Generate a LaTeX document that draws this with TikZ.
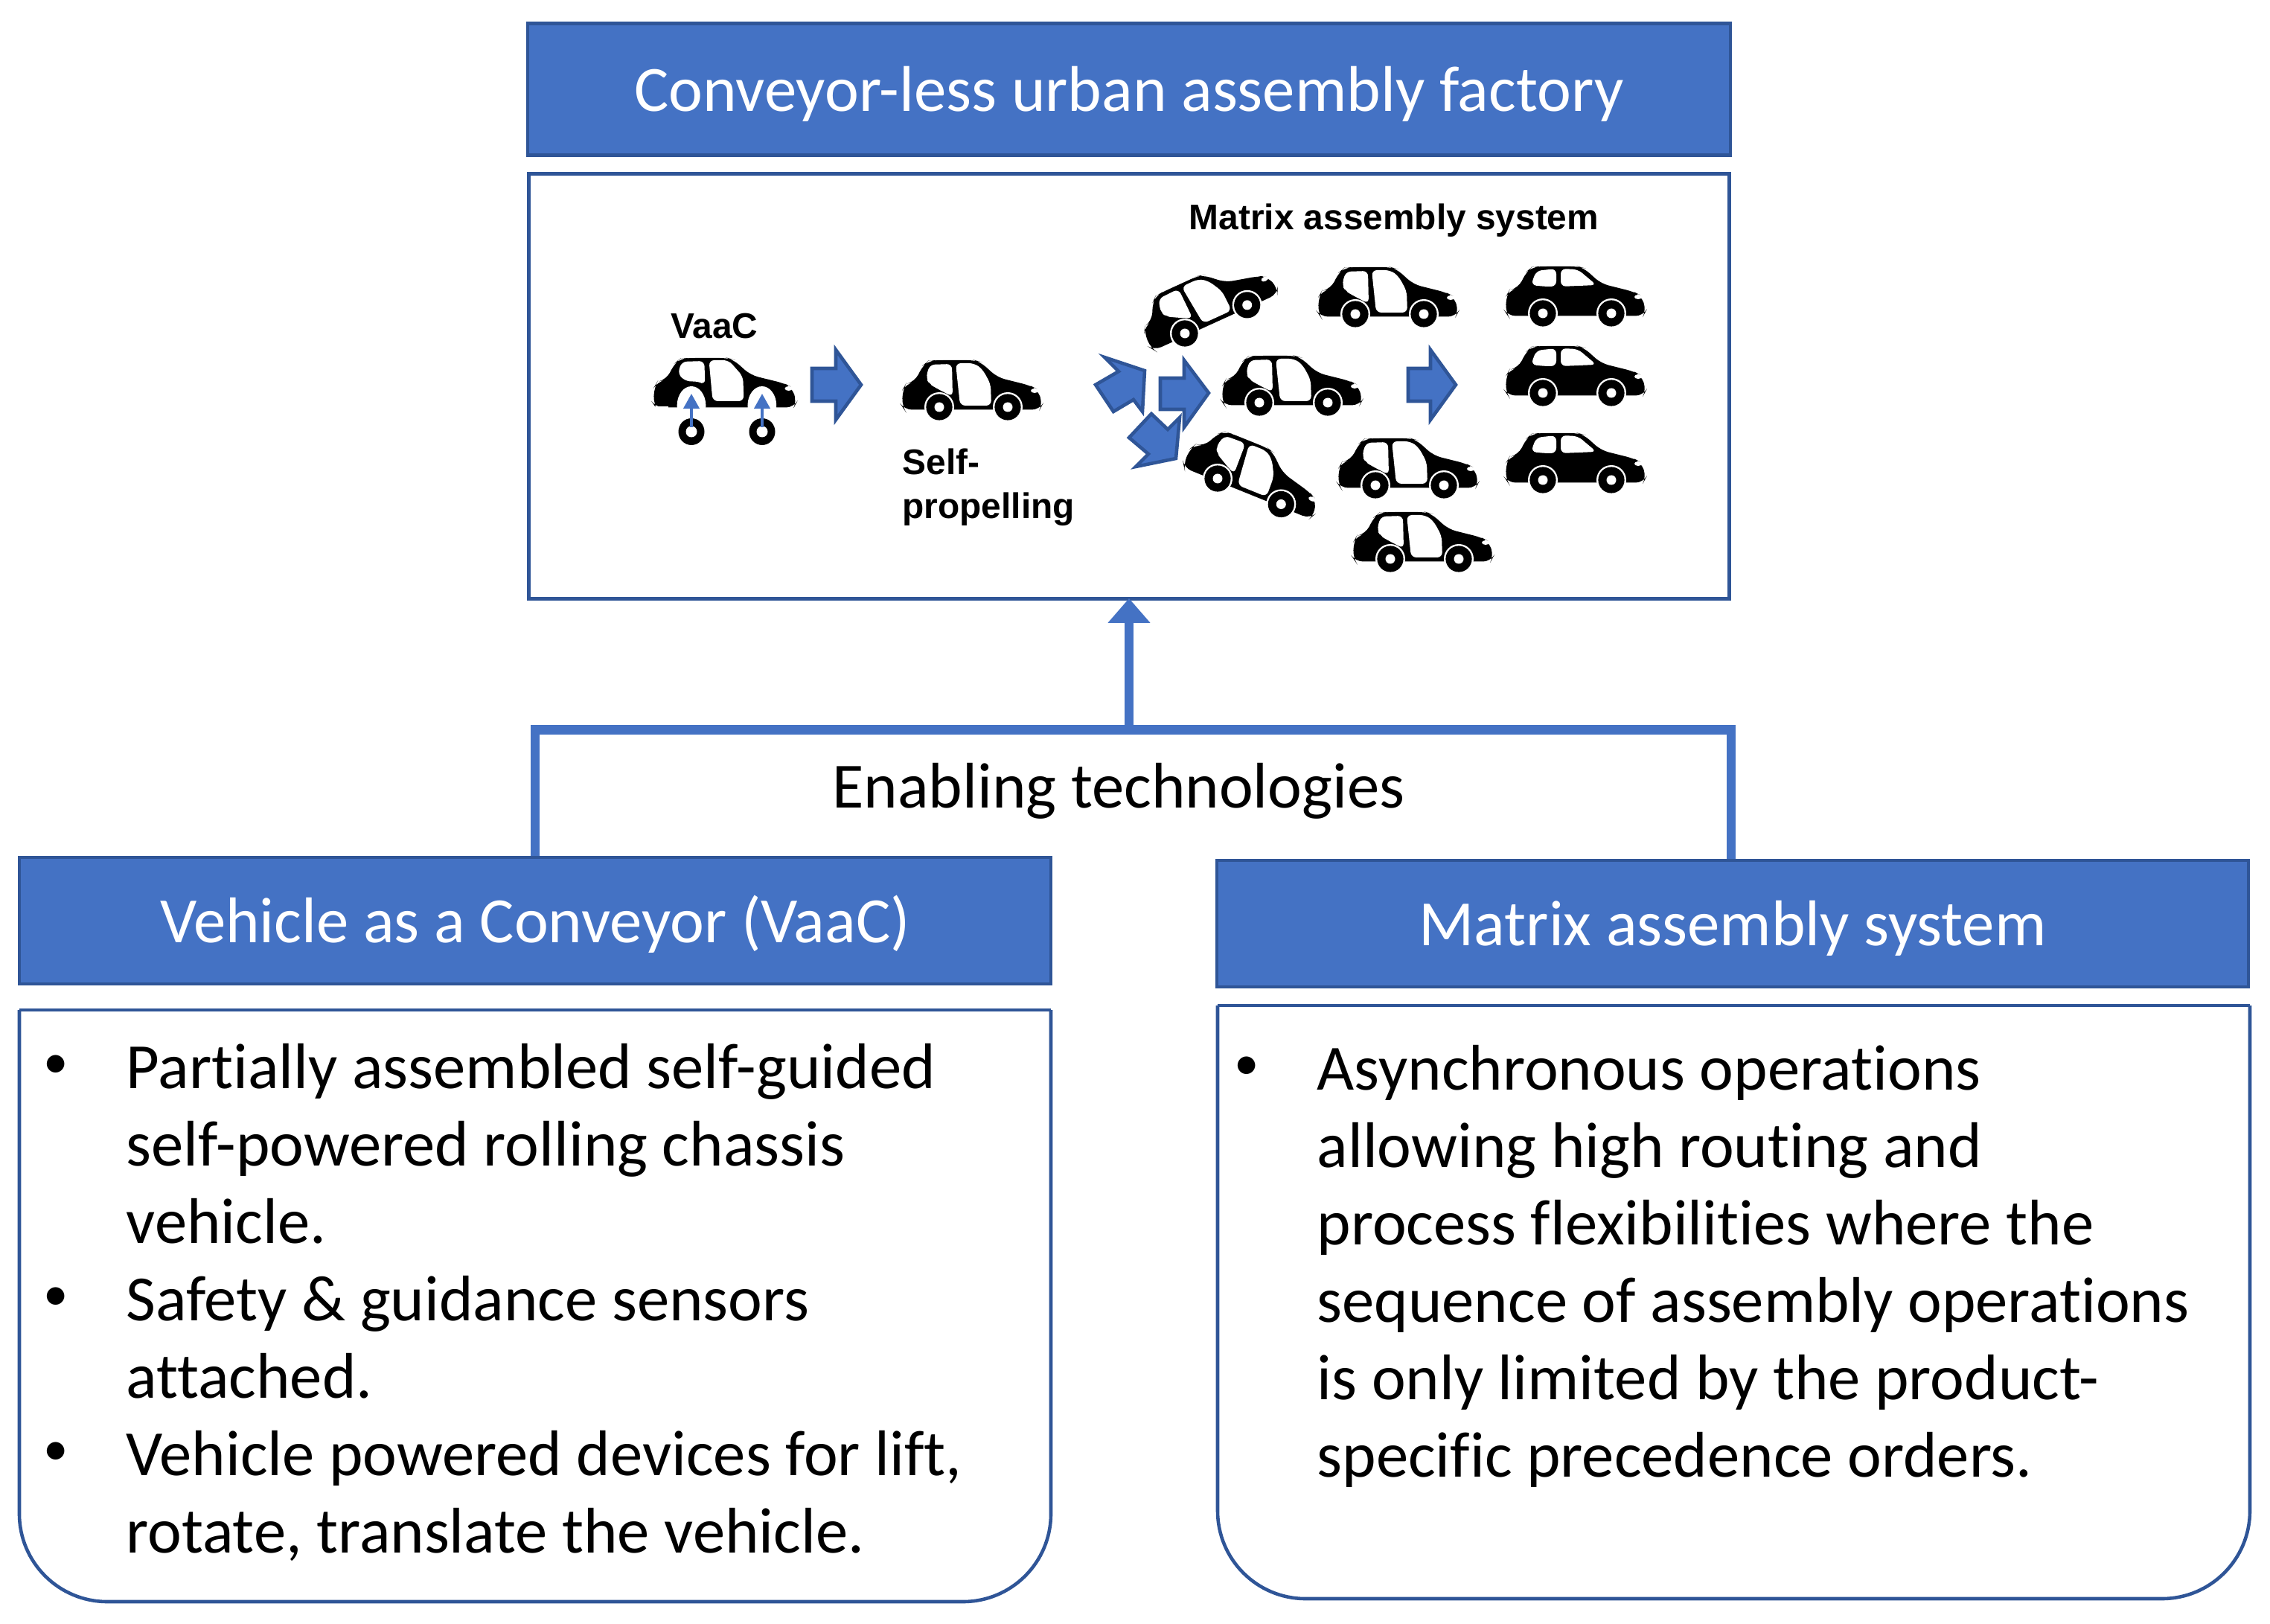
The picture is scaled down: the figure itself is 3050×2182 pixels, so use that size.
\documentclass[tikz,border=0pt]{standalone}
\usepackage{fontspec}
\setmainfont{Carlito}[Ligatures=CommonOff]
\newfontfamily\arialfont{Liberation Sans}
\usetikzlibrary{arrows.meta}
\definecolor{bluefill}{HTML}{4472C4}
\definecolor{blueline}{HTML}{2F5597}
\newcommand\carshell{%
  \fill[black,rounded corners=3] (-47,3.5) -- (-50,-1) -- (-49,-24) -- (-45,-31) -- (-33,-34) -- (-22,-56) -- (-15,-62) -- (-5,-63) -- (48,-63) -- (55,-61) -- (78,-40) -- (122,-29) -- (132,-24) -- (139,-4) -- (135,3.5) -- cycle;
  \fill[white] (128,-22) ellipse (5 and 3);
}
\newcommand\doorpanels{%
  \fill[white,rounded corners=2] (-13,-57) -- (17,-58) -- (18,-14) -- (-5,-26) -- (-13,-31) -- (-18,-39) -- cycle;
  \fill[white,rounded corners=2] (22,-59) -- (47,-59) -- (58,-51) -- (69,-31) -- (70,-2) -- (28,-2) -- cycle;
}
\newcommand\wheelpair{%
  \foreach \wx in {0,92}{
    \fill[white] (\wx,0) circle (20);
    \fill[black] (\wx,0) circle (17.6);
    \fill[white] (\wx,0) circle (6.5);
  }
}
\newcommand\opencar[3]{%
  \begin{scope}[shift={(#1,#2)},rotate=#3]
    \carshell \doorpanels \wheelpair
  \end{scope}
}
\newcommand\fullcar[2]{%
  \begin{scope}[shift={(#1,#2)}]
    \carshell
    \fill[white,rounded corners=2] (-16,-38) -- (-9,-57) -- (18,-60) -- (18,-36) -- (3,-36) -- cycle;
    \fill[white,rounded corners=2] (24,-60) -- (47,-59) -- (72,-38) -- (24,-36) -- cycle;
    \wheelpair
  \end{scope}
}
\newcommand\barecar[2]{%
  \begin{scope}[shift={(#1,#2)},xscale=1.02]
    \carshell
    \fill[white,rounded corners=2] (-13,-58) -- (17,-59) -- (18,-27) -- (8,-32) -- (-6,-31) -- (-18,-41) -- cycle;
    \fill[white,rounded corners=2] (23,-60) -- (49,-60) -- (68,-38) -- (69,-5) -- (28,-5) -- cycle;
    \foreach \wx in {0,93}{
      \fill[white] (\wx,1) ellipse (19 and 26);
    }
    \fill[white] (-60,2) rectangle (-30,12);
    \fill[white] (-25,4) rectangle (150,12);
  \end{scope}
}
\newcommand\loosewheel[2]{%
  \fill[black] (#1,#2) ellipse (17.5 and 18);
  \fill[white] (#1,#2) circle (7.5);
}
\tikzset{
  x=0.01cm,y=-0.01cm,
  headbox/.style={draw=blueline,line width=1.3pt,fill=bluefill,text=white,inner sep=0pt,text height=0.76cm,text depth=0.17cm,font=\fontsize{24.7}{30}\selectfont},
  framebox/.style={draw=blueline,line width=1.3pt,fill=white,inner sep=0pt},
  bluearrow/.style={draw=blueline,line width=1.3pt,fill=bluefill,line join=miter},
  bodyline/.style={draw=blueline,line width=1.3pt},
  bodytext/.style={inner sep=0pt,anchor=north west,align=left,font=\fontsize{24.65}{29.56}\selectfont},
  plaintext/.style={inner sep=0pt,font=\fontsize{24.65}{29.56}\selectfont},
  bulletmark/.style={inner sep=0pt,font=\fontsize{19}{20}\selectfont},
  cartext/.style={inner sep=0pt,font=\arialfont\bfseries\fontsize{13.6}{17}\selectfont},
  busline/.style={draw=bluefill,line width=0.125cm},
  liftarrow/.style={draw=bluefill,line width=0.04cm,-{Triangle[width=0.21cm,length=0.2cm]}},
}
\begin{document}
\begin{tikzpicture}
\useasboundingbox (0,0) rectangle (3050,2182);

% Title and frame
\node[headbox,minimum width=16.15cm,minimum height=1.77cm] (title) at (1517,120) {Conveyor-less urban assembly factory};
\node[framebox,minimum width=16.12cm,minimum height=5.71cm] (frame) at (1517,519) {};

% Headers
\node[headbox,minimum width=13.85cm,minimum height=1.70cm] (lefthead) at (719,1237) {Vehicle as a Conveyor (VaaC)};
\node[headbox,minimum width=13.85cm,minimum height=1.70cm] (righthead) at (2328,1241) {Matrix assembly system};

% Connectors
\coordinate (bus) at (1517,980.5);
\coordinate (rightdrop) at ([xshift=-0.02cm]righthead.north);
\draw[busline] (lefthead.north) |- (bus) -| (rightdrop);
\draw[busline,-{Triangle[width=0.55cm,length=0.33cm]}] (bus) -- ([yshift=0.03cm]frame.south);
\node[plaintext] (enabling) at (1503,1063) {Enabling technologies};

% Body boxes
\draw[bodyline,rounded corners=1.18cm] (26,1357) -- (26,2152) -- (1412,2152) -- (1412,1357);
\draw[bodyline] (26,1357) -- (1412,1357);
\draw[bodyline,rounded corners=1.18cm] (1636,1351) -- (1636,2148) -- (3023,2148) -- (3023,1351);
\draw[bodyline] (1636,1351) -- (3023,1351);

% Left bullets
\node[bulletmark] (lb1) at (75,1433) {•};
\node[bulletmark] (lb2) at (75,1745) {•};
\node[bulletmark] (lb3) at (75,1953) {•};
\node[bodytext] (ltext) at (169,1402) {Partially assembled self-guided\\self-powered rolling chassis\\vehicle.\\Safety \& guidance sensors\\attached.\\Vehicle powered devices for lift,\\rotate, translate the vehicle.};

% Right bullets
\node[bulletmark] (rb1) at (1675,1435) {•};
\node[bodytext] (rtext) at (1769,1404) {Asynchronous operations\\allowing high routing and\\process flexibilities where the\\sequence of assembly operations\\is only limited by the product-\\specific precedence orders.};

% Labels inside the frame
\node[cartext] (vaaclabel) at (960,438) {VaaC};
\node[cartext,anchor=west] (selflabel) at (1212,620) {Self-};
\node[cartext,anchor=west] (proplabel) at (1212,684) {propelling};
\node[cartext] (matrixlabel) at (1873,296) {Matrix assembly system};

% Cars
\barecar{929}{544}
\loosewheel{929}{580}
\loosewheel{1024}{580}
\coordinate (a1s) at (929,574); \coordinate (a1e) at (929,529);
\coordinate (a2s) at (1024,574); \coordinate (a2e) at (1024,529);
\draw[liftarrow] (a1s) -- (a1e);
\draw[liftarrow] (a2s) -- (a2e);
\opencar{1262}{547}{0}
\opencar{1592}{448}{24.5}
\opencar{1821}{422}{0}
\opencar{1692}{541}{0}
\opencar{1636}{643}{-22}
\opencar{1848}{652}{0}
\opencar{1868}{751}{0}
\fullcar{2073}{421}
\fullcar{2073}{528}
\fullcar{2073}{645}

% Block arrows
\draw[bluearrow] (1091,495) -- (1123,495) -- (1123,470) -- (1157,517) -- (1123,564) -- (1123,539) -- (1091,539) -- cycle;
\draw[bluearrow] (1559,508) -- (1591,508) -- (1591,484) -- (1624,528) -- (1591,574) -- (1591,550) -- (1559,550) -- cycle;
\draw[bluearrow] (1892,495) -- (1922,495) -- (1922,470) -- (1956,517) -- (1922,564) -- (1922,539) -- (1892,539) -- cycle;
\draw[bluearrow] (1484,480) -- (1538,498) -- (1535,553) -- (1523,537) -- (1496,553) -- (1472,517) -- (1503,499) -- cycle;
\draw[bluearrow] (1547,556) -- (1569,577) -- (1585,561) -- (1580,616) -- (1526,627) -- (1543,610) -- (1517,588) -- cycle;
\end{tikzpicture}
\end{document}
